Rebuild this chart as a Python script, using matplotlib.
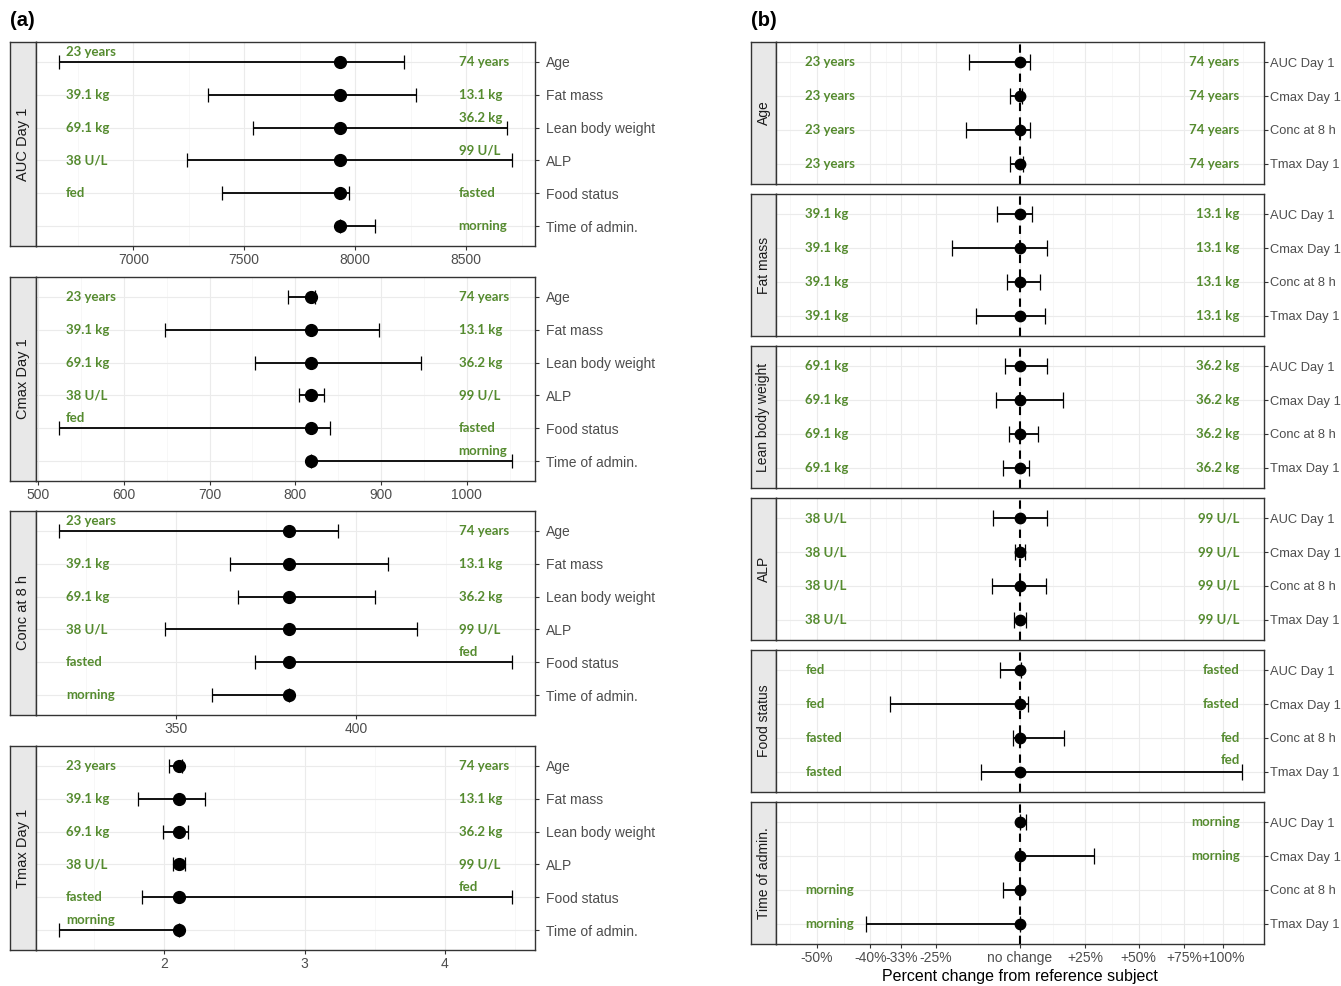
import numpy as np
import matplotlib
matplotlib.use("Agg")
import matplotlib.pyplot as plt
import matplotlib.transforms as mtrans
from matplotlib.ticker import AutoMinorLocator, FixedLocator

plt.rcParams['font.family'] = ['Liberation Sans', 'DejaVu Sans']

# ---- data ----
covariates = ["Age", "Fat mass", "Lean body weight", "ALP", "Food status", "Time of admin."]
metrics = ["AUC Day 1", "Cmax Day 1", "Conc at 8 h", "Tmax Day 1"]

# (a) absolute values: reference subject and lower / upper end per covariate
auc_ref = 7932
auc_lo = [6664, 7338, 7540, 7241, 7401, 7932]
auc_hi = [8220, 8272, 8683, 8708, 7973, 8091]
cmax_ref = 818
cmax_lo = [791, 648, 753, 804, 524, 818]
cmax_hi = [823, 898, 947, 833, 840, 1053]
conc_ref = 381.3
conc_lo = [317.3, 364.9, 367.3, 347.0, 371.9, 360.0]
conc_hi = [394.9, 408.8, 405.2, 417.1, 443.5, 381.3]
tmax_ref = 2.104
tmax_lo = [2.034, 1.811, 1.988, 2.064, 1.838, 1.246]
tmax_hi = [2.125, 2.293, 2.171, 2.144, 4.482, 2.104]

# (b) ratio to reference subject
auc_lo_r = [0.840, 0.925, 0.951, 0.913, 0.933, 1.0]
auc_hi_r = [1.036, 1.043, 1.095, 1.098, 1.005, 1.020]
cmax_lo_r = [0.967, 0.792, 0.921, 0.983, 0.641, 1.0]
cmax_hi_r = [1.006, 1.098, 1.158, 1.018, 1.027, 1.287]
conc_lo_r = [0.832, 0.957, 0.963, 0.910, 0.975, 0.944]
conc_hi_r = [1.036, 1.072, 1.063, 1.094, 1.163, 1.0]
tmax_lo_r = [0.967, 0.861, 0.945, 0.981, 0.874, 0.592]
tmax_hi_r = [1.010, 1.090, 1.032, 1.019, 2.130, 1.0]

# covariate value at each end of the bar
auc_left = ["23 years", "39.1 kg", "69.1 kg", "38 U/L", "fed", ""]
auc_right = ["74 years", "13.1 kg", "36.2 kg", "99 U/L", "fasted", "morning"]
cmax_left = ["23 years", "39.1 kg", "69.1 kg", "38 U/L", "fed", ""]
cmax_right = ["74 years", "13.1 kg", "36.2 kg", "99 U/L", "fasted", "morning"]
conc_left = ["23 years", "39.1 kg", "69.1 kg", "38 U/L", "fasted", "morning"]
conc_right = ["74 years", "13.1 kg", "36.2 kg", "99 U/L", "fed", ""]
tmax_left = ["23 years", "39.1 kg", "69.1 kg", "38 U/L", "fasted", "morning"]
tmax_right = ["74 years", "13.1 kg", "36.2 kg", "99 U/L", "fed", ""]

auc_ticks = [7000, 7500, 8000, 8500]
cmax_ticks = [500, 600, 700, 800, 900, 1000]
conc_ticks = [350, 400]
tmax_ticks = [2, 3, 4]

ratio_ticks = [0.5, 0.6, 2 / 3, 0.75, 1, 1.25, 1.5, 1.75, 2]
ratio_labels = ["-50%", "-40%", "-33%", "-25%", "no change", "+25%", "+50%", "+75%", "+100%"]

refs = [auc_ref, cmax_ref, conc_ref, tmax_ref]
los = [auc_lo, cmax_lo, conc_lo, tmax_lo]
his = [auc_hi, cmax_hi, conc_hi, tmax_hi]
ticks_a = [auc_ticks, cmax_ticks, conc_ticks, tmax_ticks]
los_r = [auc_lo_r, cmax_lo_r, conc_lo_r, tmax_lo_r]
his_r = [auc_hi_r, cmax_hi_r, conc_hi_r, tmax_hi_r]
lefts = [auc_left, cmax_left, conc_left, tmax_left]
rights = [auc_right, cmax_right, conc_right, tmax_right]

# ---- style ----
W, H = 1341, 986
EDGE = "#333333"
STRIP = "#E8E8E8"
GREEN = "#558B2F"
GRID = "#EBEBEB"
TICKC = "#4D4D4D"

fig = plt.figure(figsize=(W / 100, H / 100), dpi=100)


def px_axes(x0, y0, x1, y1):
    return fig.add_axes([x0 / W, 1 - y1 / H, (x1 - x0) / W, (y1 - y0) / H])


def facet(x0, y0, x1, y1, sw, title, strip_fs, ylab_fs, ylab_pad):
    sax = px_axes(x0, y0, x0 + sw, y1)
    sax.set_facecolor(STRIP)
    sax.set_xticks([])
    sax.set_yticks([])
    for s in sax.spines.values():
        s.set_color(EDGE)
        s.set_linewidth(1.0)
    sax.text(0.5, 0.5, title, rotation=90, ha="center", va="center",
             transform=sax.transAxes, fontsize=strip_fs, color="#1A1A1A")
    ax = px_axes(x0 + sw, y0, x1, y1)
    for s in ax.spines.values():
        s.set_color(EDGE)
        s.set_linewidth(1.0)
    ax.set_axisbelow(True)
    ax.yaxis.tick_right()
    ax.tick_params(axis="y", length=3, width=0.8, color=EDGE, labelsize=ylab_fs,
                   labelcolor=TICKC, pad=ylab_pad)
    ax.tick_params(axis="x", length=3, width=0.8, color=EDGE, labelsize=10,
                   labelcolor=TICKC, pad=2)
    ax.tick_params(which="minor", length=0)
    ax.grid(True, which="major", color=GRID, lw=0.8)
    ax.grid(True, which="minor", axis="x", color="#F4F4F4", lw=0.5)
    return ax


def end_labels(ax, rows, lo, hi, left, right, lx, rx, rha, lift):
    to_frac = ax.transData + ax.transAxes.inverted()
    tr = mtrans.blended_transform_factory(ax.transAxes, ax.transData)
    for y, l, h, lt, rt in zip(rows, lo, hi, left, right):
        lf = to_frac.transform((l, y))[0]
        hf = to_frac.transform((h, y))[0]
        if lt:
            yy = y - lift if lf < 0.16 else y
            ax.text(lx, yy, lt, transform=tr, ha="left", va="center",
                    color=GREEN, fontsize=9.5, family="Lato", weight="bold")
        if rt:
            yy = y - lift if hf > 0.84 else y
            ax.text(rx, yy, rt, transform=tr, ha=rha, va="center",
                    color=GREEN, fontsize=9.5, family="Lato", weight="bold")


# ---- (a) absolute values, one facet per PK metric ----
a_tops = [42, 277, 511, 746]
rows_a = np.arange(len(covariates))
for k, m in enumerate(metrics):
    ax = facet(10, a_tops[k], 535, a_tops[k] + 204, 26, m, 10.5, 10, 5)
    ref, lo, hi = refs[k], los[k], his[k]
    span = max(hi) - min(lo)
    ax.set_xlim(min(lo) - 0.05 * span, max(hi) + 0.05 * span)
    ax.set_ylim(len(covariates) - 0.4, -0.6)
    ax.set_yticks(rows_a)
    ax.set_yticklabels(covariates)
    ax.set_xticks(ticks_a[k])
    ax.set_xticklabels([str(t) for t in ticks_a[k]])
    ax.xaxis.set_minor_locator(AutoMinorLocator(2))
    ref_arr = np.full(len(covariates), ref, dtype=float)
    err = [ref_arr - np.array(lo), np.array(hi) - ref_arr]
    ax.errorbar(ref_arr, rows_a, xerr=err, fmt="o", color="black", ms=8.5,
                elinewidth=1.3, capsize=5, capthick=0.9, zorder=3)
    end_labels(ax, rows_a, lo, hi, lefts[k], rights[k], 0.06, 0.847, "left", 0.3)

fig.text(10 / W, 1 - 20 / H, "(a)", fontsize=14.5, weight="bold", va="center", ha="left")

# ---- (b) percent change, one facet per covariate ----
b_tops = [42, 194, 346, 498, 650, 802]
rows_b = np.arange(len(metrics))
lt_log = np.log(ratio_ticks)
mids = (lt_log[:-1] + lt_log[1:]) / 2
mids = np.concatenate([[lt_log[0] - (lt_log[1] - lt_log[0]) / 2], mids,
                       [lt_log[-1] + (lt_log[-1] - lt_log[-2]) / 2]])
for i, cov in enumerate(covariates):
    ax = facet(751, b_tops[i], 1264, b_tops[i] + 142, 25, cov, 10, 9.3, 1.5)
    ax.set_xscale("log")
    ax.set_xlim(1 / 2.3, 2.3)
    ax.set_ylim(len(metrics) - 0.4, -0.6)
    ax.set_yticks(rows_b)
    ax.set_yticklabels(metrics)
    ax.xaxis.set_major_locator(FixedLocator(ratio_ticks))
    ax.xaxis.set_minor_locator(FixedLocator(np.exp(mids)))
    if i == len(covariates) - 1:
        ax.set_xticklabels(ratio_labels)
    else:
        ax.tick_params(axis="x", which="both", length=0, labelbottom=False)
    ax.xaxis.set_minor_formatter(plt.NullFormatter())
    lo = np.array([los_r[j][i] for j in range(len(metrics))])
    hi = np.array([his_r[j][i] for j in range(len(metrics))])
    ones = np.ones(len(metrics))
    ax.axvline(1, color="black", ls=(0, (4, 3)), lw=1.5, zorder=2)
    ax.errorbar(ones, rows_b, xerr=[ones - lo, hi - ones], fmt="o", color="black",
                ms=7.5, elinewidth=1.3, capsize=6, capthick=0.9, zorder=3)
    end_labels(ax, rows_b, lo, hi,
               [lefts[j][i] for j in range(len(metrics))],
               [rights[j][i] for j in range(len(metrics))],
               0.06, 0.95, "right", 0.35)

fig.text(751 / W, 1 - 20 / H, "(b)", fontsize=14.5, weight="bold", va="center", ha="left")
fig.text(1020 / W, 1 - 977 / H, "Percent change from reference subject",
         fontsize=11.5, ha="center", va="center", color="black")

fig.savefig("out.png", dpi=100)
